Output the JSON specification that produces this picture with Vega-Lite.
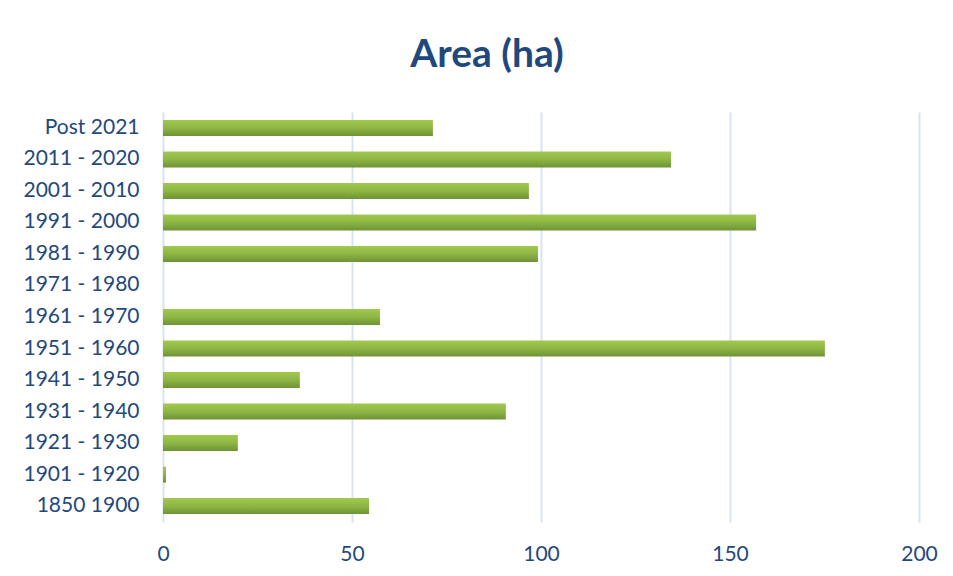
{
  "$schema": "https://vega.github.io/schema/vega-lite/v6.json",
  "autosize": {"type": "none"},
  "padding": {"left": 163, "top": 112, "right": 34, "bottom": 54},
  "width": 756,
  "height": 410,
  "background": "white",
  "title": {
    "text": "Area (ha)",
    "font": "Lato",
    "fontSize": 39,
    "fontWeight": "bold",
    "color": "#1F497D",
    "anchor": "middle",
    "dx": -54,
    "baseline": "alphabetic",
    "offset": 6
  },
  "data": {
    "values": [
      {"period": "Post 2021", "area": 71.4},
      {"period": "2011 - 2020", "area": 134.4},
      {"period": "2001 - 2010", "area": 96.8},
      {"period": "1991 - 2000", "area": 156.9},
      {"period": "1981 - 1990", "area": 99.2},
      {"period": "1971 - 1980", "area": 0},
      {"period": "1961 - 1970", "area": 57.4},
      {"period": "1951 - 1960", "area": 175.1},
      {"period": "1941 - 1950", "area": 36.2},
      {"period": "1931 - 1940", "area": 90.7},
      {"period": "1921 - 1930", "area": 19.8},
      {"period": "1901 - 1920", "area": 0.8},
      {"period": "1850 1900", "area": 54.5}
    ]
  },
  "mark": {
    "type": "bar",
    "fill": {
      "gradient": "linear",
      "x1": 0, "y1": 0, "x2": 0, "y2": 1,
      "stops": [
        {"offset": 0, "color": "#A2C94E"},
        {"offset": 0.5, "color": "#8DB644"},
        {"offset": 1, "color": "#6F9236"}
      ]
    }
  },
  "encoding": {
    "y": {
      "field": "period",
      "type": "nominal",
      "sort": null,
      "title": null,
      "scale": {"paddingInner": 0.49, "paddingOuter": 0.25},
      "axis": {
        "domain": false,
        "ticks": false,
        "labelFont": "Lato",
        "labelFontSize": 21,
        "labelColor": "#1F497D",
        "labelPadding": 24
      }
    },
    "x": {
      "field": "area",
      "type": "quantitative",
      "title": null,
      "scale": {"domain": [0, 200], "nice": false},
      "axis": {
        "values": [0, 50, 100, 150, 200],
        "domain": false,
        "ticks": false,
        "grid": true,
        "gridColor": "#D9E3F1",
        "gridWidth": 2,
        "labelFlush": false,
        "labelFont": "Lato",
        "labelFontSize": 21,
        "labelColor": "#1F497D",
        "labelPadding": 21
      }
    }
  },
  "config": {"view": {"stroke": null}}
}
